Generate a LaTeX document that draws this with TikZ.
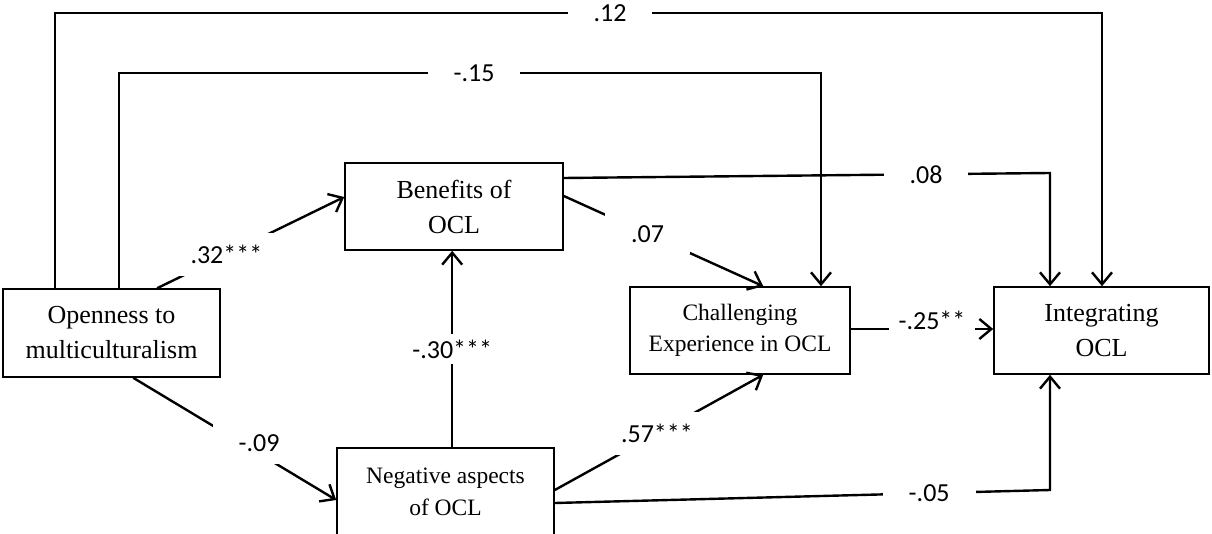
\documentclass[tikz,border=0pt]{standalone}
\usepackage{fontspec}
\setmainfont{Liberation Serif}
\newfontfamily\lblfont{Carlito}
\usetikzlibrary{arrows.meta,calc}
\begin{document}
\begin{tikzpicture}[x=1pt,y=-1pt,line width=2.4pt,
  box/.style={draw,line width=1.6pt,rectangle,align=center,inner sep=0pt},
  bigtxt/.style={font=\fontsize{26}{35}\selectfont},
  smalltxt/.style={font=\fontsize{23.5}{31}\selectfont},
  lbl/.style={fill=white,font=\lblfont\fontsize{26}{30}\selectfont,inner xsep=26pt,inner ysep=12pt},
  arr/.style={-{Straight Barb[length=12pt,width=20pt,line width=2.4pt]}}]
\useasboundingbox (0,0) rectangle (1212,534);
% boxes
\node[box,bigtxt,minimum width=217pt,minimum height=88pt] (open) at (111.5,333) {Openness to\\multiculturalism};
\node[box,bigtxt,minimum width=218pt,minimum height=87pt] (ben) at (454,206.5) {Benefits of\\OCL};
\node[box,smalltxt,minimum width=220pt,minimum height=87pt] (chal) at (740,330.5) {Challenging\\Experience in OCL};
\node[box,bigtxt,minimum width=215pt,minimum height=87pt] (integ) at (1101.5,330.5) {Integrating\\OCL};
\node[box,font=\fontsize{23.5}{32}\selectfont,minimum width=217pt,minimum height=88pt] (neg) at (445.5,492) {Negative aspects\\of OCL};
% corner points
\coordinate (c12) at (1102,13);
\coordinate (c15) at (821,73);
\coordinate (c08) at (1050,173);
\coordinate (c05) at (1050,490);
% connectors
\draw[arr] ([xshift=53pt]open.north west) |- (c12) -- (c12 |- integ.north);
\node[lbl] (l12) at (610,13) {.12};
\draw[arr] ([xshift=117pt]open.north west) |- (c15) -- (c15 |- chal.north);
\node[lbl] (l15) at (474,73) {-.15};
\draw[arr] ([xshift=155pt]open.north west) -- node[lbl,pos=0.37] (l32) {.32***} ([yshift=9.5pt]ben.west);
\draw[arr] ([xshift=131pt]open.south west) -- node[lbl,pos=0.62,yshift=10pt] (l09) {-.09} ([yshift=-8pt]neg.west);
\draw[arr] ([xshift=116pt]neg.north west) -- node[lbl,pos=0.5,inner ysep=6pt] (l30) {-.30***} ([xshift=108pt]ben.south west);
\draw[arr] ([yshift=2pt]neg.east) -- node[lbl,pos=0.49] (l57) {.57***} ([xshift=134pt]chal.south west);
\draw[arr] ([yshift=-11pt]neg.east) -- node[lbl,pos=0.756] (l05) {-.05} (c05) -- (c05 |- integ.south);
\draw[arr] ([yshift=10.5pt]ben.east) -- node[lbl,pos=0.42] (l07) {.07} ([xshift=134pt]chal.north west);
\draw[arr] ([yshift=28.5pt]ben.east) -- node[lbl,pos=0.745] (l08) {.08} (c08) -- (c08 |- integ.north);
\draw[arr] ([yshift=1.5pt]chal.east) -- node[lbl,pos=0.57,yshift=9pt,inner xsep=10pt,inner ysep=4pt] (l25) {-.25**} ([yshift=1.5pt]integ.west);
\end{tikzpicture}
\end{document}
